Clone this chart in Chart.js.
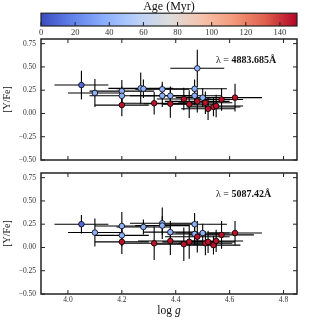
<!DOCTYPE html>
<html>
<head>
<meta charset="utf-8">
<script src="https://cdn.jsdelivr.net/npm/chart.js@4.4.1/dist/chart.umd.min.js"></script>
<style>
  body { margin: 0; background: #fff; }
  #wrap { position: relative; width: 330px; height: 330px; }
  canvas { position: absolute; left: 0; top: 0; }
</style>
</head>
<body>
<div id="wrap">
  <canvas id="cbar" width="330" height="45"></canvas>
  <canvas id="topPanel" width="330" height="330"></canvas>
  <canvas id="botPanel" width="330" height="330"></canvas>
</div>
<script>
// colour bar (coolwarm)
const ageMin = 0, ageMax = 150;
const ageTicks = [0, 20, 40, 60, 80, 100, 120, 140];
const cmapPos = [0, 0.125, 0.25, 0.375, 0.5, 0.625, 0.75, 0.875, 1];
const cmapRGB = [[59,76,192],[98,130,234],[141,176,254],[184,208,249],[221,221,221],
                 [245,196,173],[244,154,123],[222,96,77],[180,4,38]];

const loggTicks = [4.0, 4.2, 4.4, 4.6, 4.8];
const yfeTicks = [-0.5, -0.25, 0, 0.25, 0.5, 0.75];

// top panel: lambda = 4883.685 A
const topLogg = [4.05, 4.10, 4.20, 4.20, 4.27, 4.28, 4.35, 4.35, 4.38, 4.47, 4.47, 4.48, 4.50,
                 4.20, 4.32, 4.38, 4.43, 4.45, 4.48, 4.51, 4.52, 4.54, 4.55, 4.57, 4.62];
const topYFe = [0.305, 0.22, 0.24, 0.19, 0.27, 0.265, 0.26, 0.19, 0.19, 0.265, 0.19, 0.485, 0.17,
                0.09, 0.11, 0.105, 0.155, 0.10, 0.13, 0.115, 0.05, 0.07, 0.08, 0.15, 0.17];
const topXErr = [0.10, 0.10, 0.12, 0.12, 0.12, 0.10, 0.10, 0.12, 0.10, 0.12, 0.10, 0.10, 0.10,
                 0.10, 0.12, 0.10, 0.10, 0.10, 0.12, 0.10, 0.10, 0.10, 0.10, 0.08, 0.10];
const topYErr = [0.155, 0.15, 0.12, 0.10, 0.17, 0.10, 0.08, 0.12, 0.10, 0.10, 0.10, 0.20, 0.10,
                 0.12, 0.12, 0.15, 0.12, 0.15, 0.12, 0.12, 0.12, 0.10, 0.12, 0.12, 0.15];
const topAge = [10, 38, 38, 38, 38, 38, 38, 38, 38, 38, 38, 38, 38,
                147, 147, 147, 147, 147, 147, 147, 147, 147, 147, 147, 147];

// bottom panel: lambda = 5087.42 A
const botLogg = [4.05, 4.10, 4.20, 4.20, 4.28, 4.35, 4.35, 4.38, 4.47, 4.47, 4.50,
                 4.20, 4.32, 4.38, 4.43, 4.45, 4.48, 4.51, 4.52, 4.54, 4.55, 4.57, 4.62];
const botYFe = [0.25, 0.16, 0.23, 0.13, 0.22, 0.26, 0.235, 0.165, 0.25, 0.145, 0.155,
                0.06, 0.045, 0.07, 0.035, 0.06, 0.115, 0.045, 0.06, 0.025, 0.07, 0.135, 0.155];
const botXErr = [0.10, 0.10, 0.10, 0.10, 0.10, 0.12, 0.10, 0.10, 0.12, 0.10, 0.10,
                 0.10, 0.12, 0.12, 0.12, 0.10, 0.12, 0.10, 0.10, 0.10, 0.10, 0.12, 0.10];
const botYErr = [0.10, 0.15, 0.15, 0.12, 0.08, 0.17, 0.10, 0.12, 0.12, 0.12, 0.10,
                 0.13, 0.18, 0.15, 0.18, 0.18, 0.17, 0.13, 0.12, 0.10, 0.12, 0.15, 0.13];
const botAge = [10, 38, 38, 38, 38, 38, 38, 38, 38, 38, 38,
                147, 147, 147, 147, 147, 147, 147, 147, 147, 147, 147, 147];

const SERIF = "'Liberation Serif', 'DejaVu Serif', serif";

function coolwarm(age) {
    let t = (age - ageMin) / (ageMax - ageMin);
    t = Math.max(0, Math.min(1, t));
    for (let i = 1; i < cmapPos.length; i++) {
        if (t <= cmapPos[i]) {
            const f = (t - cmapPos[i - 1]) / (cmapPos[i] - cmapPos[i - 1]);
            const a = cmapRGB[i - 1], b = cmapRGB[i];
            return 'rgb(' + a.map((v, k) => Math.round(v + f * (b[k] - v))).join(',') + ')';
        }
    }
}

function fmtY(v) {
    return (v < 0 ? '\u2212' : '') + Math.abs(v).toFixed(2);
}

// error bars drawn under the markers
function errorBars(xs, ys, xe, ye) {
    return {
        id: 'errorBars',
        beforeDatasetsDraw(chart) {
            const ctx = chart.ctx, sx = chart.scales.x, sy = chart.scales.y, a = chart.chartArea;
            ctx.save();
            ctx.beginPath();
            ctx.rect(a.left, a.top, a.right - a.left, a.bottom - a.top);
            ctx.clip();
            ctx.strokeStyle = '#000';
            ctx.lineWidth = 1.1;
            xs.forEach((x, i) => {
                const px = sx.getPixelForValue(x), py = sy.getPixelForValue(ys[i]);
                ctx.beginPath();
                ctx.moveTo(sx.getPixelForValue(x - xe[i]), py);
                ctx.lineTo(sx.getPixelForValue(x + xe[i]), py);
                ctx.moveTo(px, sy.getPixelForValue(ys[i] - ye[i]));
                ctx.lineTo(px, sy.getPixelForValue(ys[i] + ye[i]));
                ctx.stroke();
            });
            ctx.restore();
        }
    };
}

// frame + inward ticks on all four sides
const frame = {
    id: 'frame',
    afterDraw(chart) {
        const ctx = chart.ctx, a = chart.chartArea, sx = chart.scales.x, sy = chart.scales.y;
        ctx.save();
        ctx.strokeStyle = '#222';
        ctx.lineWidth = 1;
        ctx.beginPath();
        loggTicks.forEach(v => {
            const px = sx.getPixelForValue(v);
            ctx.moveTo(px, a.bottom); ctx.lineTo(px, a.bottom - 4);
            ctx.moveTo(px, a.top); ctx.lineTo(px, a.top + 4);
        });
        yfeTicks.forEach(v => {
            const py = sy.getPixelForValue(v);
            ctx.moveTo(a.left, py); ctx.lineTo(a.left + 4, py);
            ctx.moveTo(a.right, py); ctx.lineTo(a.right - 4, py);
        });
        ctx.stroke();
        ctx.lineWidth = 1.5;
        ctx.strokeRect(a.left, a.top, a.right - a.left, a.bottom - a.top);
        ctx.restore();
    }
};

function lambdaLabel(num) {
    return {
        id: 'lambdaLabel',
        afterDraw(chart) {
            const ctx = chart.ctx, a = chart.chartArea;
            ctx.save();
            ctx.fillStyle = '#111';
            ctx.textBaseline = 'middle';
            ctx.font = '10px ' + SERIF;
            const pre = '\u03bb = ';
            const x0 = a.left + 175, y0 = a.top + 21;
            ctx.fillText(pre, x0, y0);
            const w = ctx.measureText(pre).width;
            ctx.font = 'bold 10px ' + SERIF;
            ctx.fillText(num + '\u00c5', x0 + w, y0);
            ctx.restore();
        }
    };
}

const xLabel = {
    id: 'xLabel',
    afterDraw(chart) {
        const ctx = chart.ctx, a = chart.chartArea;
        ctx.save();
        ctx.fillStyle = '#111';
        ctx.textBaseline = 'middle';
        ctx.font = '11.5px ' + SERIF;
        const w1 = ctx.measureText('log ').width;
        ctx.font = 'italic 11.5px ' + SERIF;
        const w2 = ctx.measureText('g').width;
        const x0 = (a.left + a.right) / 2 - (w1 + w2) / 2, y0 = 311;
        ctx.font = '11.5px ' + SERIF;
        ctx.fillText('log ', x0, y0);
        ctx.font = 'italic 11.5px ' + SERIF;
        ctx.fillText('g', x0 + w1, y0);
        ctx.restore();
    }
};

function makePanel(id, xs, ys, xe, ye, ages, num, isBottom) {
    const pts = xs.map((x, i) => ({ x: x, y: ys[i] }));
    return new Chart(document.getElementById(id), {
        type: 'scatter',
        data: {
            datasets: [{
                data: pts,
                pointRadius: 2.8,
                pointHoverRadius: 2.8,
                pointBorderWidth: 0.8,
                pointBorderColor: '#000',
                pointBackgroundColor: ages.map(coolwarm)
            }]
        },
        options: {
            responsive: false,
            animation: false,
            devicePixelRatio: 1,
            layout: { padding: isBottom ? { left: 0, right: 33, top: 173, bottom: 0 }
                                        : { left: 0, right: 33, top: 39, bottom: 170 } },
            plugins: { legend: { display: false }, tooltip: { enabled: false } },
            scales: {
                x: {
                    min: 3.9, max: 4.85,
                    afterBuildTicks: s => { s.ticks = loggTicks.map(v => ({ value: v })); },
                    afterFit: s => { s.height = isBottom ? 36 : 0; },
                    grid: { display: false, drawTicks: false },
                    border: { display: false },
                    ticks: {
                        display: isBottom, padding: 2, color: '#333',
                        font: { family: SERIF, size: 7.5 },
                        callback: v => v.toFixed(1)
                    }
                },
                y: {
                    min: -0.5, max: 0.8,
                    afterBuildTicks: s => { s.ticks = yfeTicks.map(v => ({ value: v })); },
                    afterFit: s => { s.width = 41; },
                    grid: { display: false, drawTicks: false },
                    border: { display: false },
                    ticks: {
                        padding: 5, color: '#333',
                        font: { family: SERIF, size: 7.5 },
                        callback: v => fmtY(v)
                    },
                    title: {
                        display: true, text: '[Y/Fe]', color: '#111',
                        padding: { top: 1, bottom: 0 },
                        font: { family: SERIF, size: 10, lineHeight: 1.2 }
                    }
                }
            }
        },
        plugins: [errorBars(xs, ys, xe, ye), frame, lambdaLabel(num)].concat(isBottom ? [xLabel] : [])
    });
}

// colour bar chart
const cbarFill = {
    id: 'cbarFill',
    beforeDatasetsDraw(chart) {
        const ctx = chart.ctx, a = chart.chartArea, sx = chart.scales.x;
        const x0 = sx.getPixelForValue(ageMin), x1 = sx.getPixelForValue(ageMax);
        const g = ctx.createLinearGradient(x0, 0, x1, 0);
        cmapPos.forEach((p, i) => g.addColorStop(p, 'rgb(' + cmapRGB[i].join(',') + ')'));
        ctx.save();
        ctx.fillStyle = g;
        ctx.fillRect(x0, a.top, x1 - x0, a.bottom - a.top);
        ctx.strokeStyle = '#222';
        ctx.lineWidth = 1;
        ctx.beginPath();
        ageTicks.forEach(v => {
            const px = sx.getPixelForValue(v);
            ctx.moveTo(px, a.bottom); ctx.lineTo(px, a.bottom - 4);
        });
        ctx.stroke();
        ctx.lineWidth = 1.2;
        ctx.strokeRect(x0, a.top, x1 - x0, a.bottom - a.top);
        ctx.restore();
    }
};

new Chart(document.getElementById('cbar'), {
    type: 'scatter',
    data: { datasets: [{ data: [] }] },
    options: {
        responsive: false,
        animation: false,
        devicePixelRatio: 1,
        layout: { padding: { left: 41, right: 33, top: 0, bottom: 0 } },
        plugins: {
            legend: { display: false }, tooltip: { enabled: false },
            title: {
                display: true, text: 'Age (Myr)', color: '#111',
                padding: { top: 0, bottom: 0 },
                font: { family: SERIF, size: 12, weight: 'normal', lineHeight: 1.1 }
            }
        },
        scales: {
            x: {
                min: ageMin, max: ageMax,
                afterBuildTicks: s => { s.ticks = ageTicks.map(v => ({ value: v })); },
                afterFit: s => { s.height = 19; },
                grid: { display: false, drawTicks: false },
                border: { display: false },
                ticks: { padding: 2, color: '#333', font: { family: SERIF, size: 8.5 } }
            },
            y: { display: false }
        }
    },
    plugins: [cbarFill]
});

makePanel('topPanel', topLogg, topYFe, topXErr, topYErr, topAge, '4883.685', false);
makePanel('botPanel', botLogg, botYFe, botXErr, botYErr, botAge, '5087.42', true);
</script>
</body>
</html>
